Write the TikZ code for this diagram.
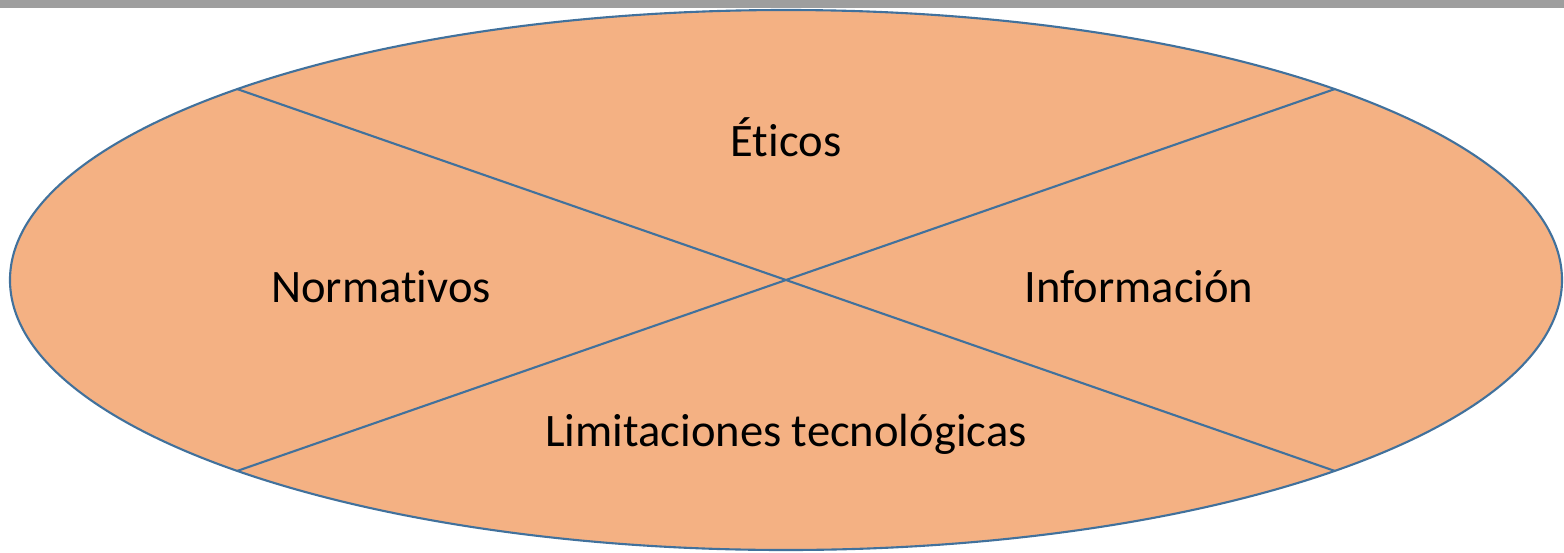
\documentclass[tikz,border=0pt]{standalone}
\usepackage{fontspec}
\setmainfont[Ligatures=NoCommon]{Carlito}
\usepackage{tikz}

\definecolor{peach}{HTML}{F4B183}
\definecolor{edgeblue}{HTML}{41719C}
\definecolor{bargray}{HTML}{9E9E9E}

\begin{document}
\begin{tikzpicture}[x=0.02cm, y=0.02cm, part/.style = {font=\fontsize{26.5}{32}\selectfont}] 
\useasboundingbox (-786,-272) rectangle (778,280);
\fill[bargray] (-786,272) rectangle (778,280);
\draw[edgeblue, fill=peach, line width=1.2pt] (0,0) ellipse [x radius=776, y radius=270];
\coordinate (tl) at (135:776 and 270);
\coordinate (tr) at (45:776 and 270);
\coordinate (bl) at (225:776 and 270);
\coordinate (br) at (315:776 and 270);
\node[part] (1) at (0,143) {Éticos};
\node[part] (2) at (-405,-7) {Normativos};
\node[part] (3) at (353,-7) {Información};
\node[part] (4) at (0,-154) {Limitaciones tecnológicas};
\draw[edgeblue, line width=1.2pt] (tl) -- (br);
\draw[edgeblue, line width=1.2pt] (bl) -- (tr);
\end{tikzpicture}
\end{document}
